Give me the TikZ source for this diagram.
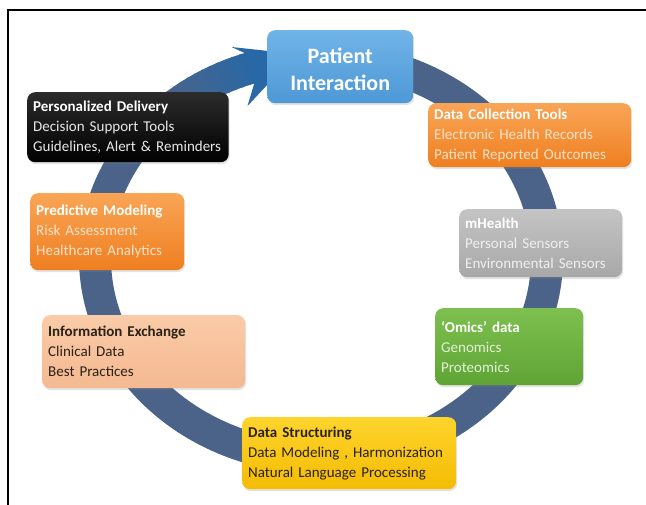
\documentclass[tikz,border=0pt]{standalone}
\usepackage{fontspec}
\setmainfont{Carlito}
\usetikzlibrary{shadows}

\definecolor{ringslate}{HTML}{4B6389}
\definecolor{ringblue}{HTML}{2868A6}
\definecolor{darktext}{HTML}{2A2218}
\definecolor{bluetop}{HTML}{70B4E8}
\definecolor{bluebot}{HTML}{4E98D6}
\definecolor{blacktop}{HTML}{2C2C2C}
\definecolor{orangetop}{HTML}{F9A556}
\definecolor{orangebot}{HTML}{EF7F20}
\definecolor{orangesub}{HTML}{FCE2CA}
\definecolor{graytop}{HTML}{C4C4C4}
\definecolor{graybot}{HTML}{A8A8A8}
\definecolor{graysub}{HTML}{EFEFEF}
\definecolor{peachtop}{HTML}{FACBA8}
\definecolor{peachbot}{HTML}{F4B991}
\definecolor{greentop}{HTML}{7EC050}
\definecolor{greenbot}{HTML}{5EA434}
\definecolor{greensub}{HTML}{E4F1D8}
\definecolor{yellowtop}{HTML}{FED42C}
\definecolor{yellowbot}{HTML}{F4BC04}
\definecolor{lightsub}{HTML}{E8E8E8}

\begin{document}
\begin{tikzpicture}[x=1pt,y=-1pt,
  card/.style={rounded corners=8pt, inner xsep=6pt, inner ysep=0pt,
    anchor=north west, align=left, text=white,
    font=\fontsize{15}{20}\selectfont,
    drop shadow={shadow xshift=1pt, shadow yshift=-2pt, opacity=0.22}},
  cardsize/.style n args={2}{minimum width=#1pt, minimum height=#2pt,
    text width=#1pt-12pt},
  orangecard/.style={card, top color=orangetop, bottom color=orangebot},
]
\useasboundingbox (0,0) rectangle (646,505);
\fill[white] (0,0) rectangle (646,505);

% frame lines along the top and the left edge
\draw[line width=2pt] (646,10) -- (8,10) -- (8,505);

% the cycle ring (elliptical band), slate part
\draw[ringslate, line width=32pt]
  plot[domain=70:-228, samples=160, smooth] ({321+226*cos(\x)},{258-200*sin(\x)});
% last stretch before the arrowhead shades into blue
\foreach \a [evaluate=\a as \m using {int((132-\a)*100/24)},
             evaluate=\a as \b using {\a-2.6}] in {132,130,...,110} {
  \draw[color=ringblue!\m!ringslate, line width=32pt]
    plot[domain=\a:\b, samples=4] ({321+226*cos(\x)},{258-200*sin(\x)});
}
% arrowhead pointing into the top box
\fill[ringblue] (231.5,47.0) -- (296,54.0) -- (247.5,106.0)
  -- (254.2,83.6) -- (244.6,53.0) -- cycle;

% boxes
\node[card, cardsize={146}{73}, align=center,
      font=\bfseries\fontsize{22}{27}\selectfont,
      top color=bluetop, bottom color=bluebot]
  (patient) at (267,30) {\rule{0pt}{20pt}Patient\\Interaction};

\node[card, cardsize={201}{70}, text width=189.5pt,
      top color=blacktop, bottom color=black]
  (deliver) at (27,92)
  {\textbf{Personalized Delivery}\\
   \textcolor{lightsub}{Decision Support Tools}\\
   \textcolor{lightsub}{Guidelines, Alert \& Reminders}};

\node[orangecard, cardsize={203}{64}]
  (collect) at (428,103)
  {\textbf{Data Collection Tools}\\
   \textcolor{orangesub}{Electronic Health Records}\\
   \textcolor{orangesub}{Patient Reported Outcomes}};

\node[orangecard, cardsize={154}{77}]
  (predict) at (30,193)
  {\textbf{Predictive Modeling}\\
   \textcolor{orangesub}{Risk Assessment}\\
   \textcolor{orangesub}{Healthcare Analytics}};

\node[card, cardsize={163}{68}, top color=graytop, bottom color=graybot]
  (mhealth) at (459,209)
  {\textbf{mHealth}\\
   \textcolor{graysub}{Personal Sensors}\\
   \textcolor{graysub}{Environmental Sensors}};

\node[card, cardsize={203}{73}, text=darktext,
      top color=peachtop, bottom color=peachbot]
  (exchange) at (42,315)
  {\textbf{Information Exchange}\\
   Clinical Data\\
   Best Practices};

\node[card, cardsize={148}{77}, top color=greentop, bottom color=greenbot]
  (omics) at (435,308)
  {\textbf{‘Omics’ data}\\
   \textcolor{greensub}{Genomics}\\
   \textcolor{greensub}{Proteomics}};

\node[card, cardsize={214}{72}, text=darktext,
      top color=yellowtop, bottom color=yellowbot]
  (structure) at (242,417)
  {\textbf{Data Structuring}\\
   Data Modeling , Harmonization\\
   Natural Language Processing};
\end{tikzpicture}
\end{document}
